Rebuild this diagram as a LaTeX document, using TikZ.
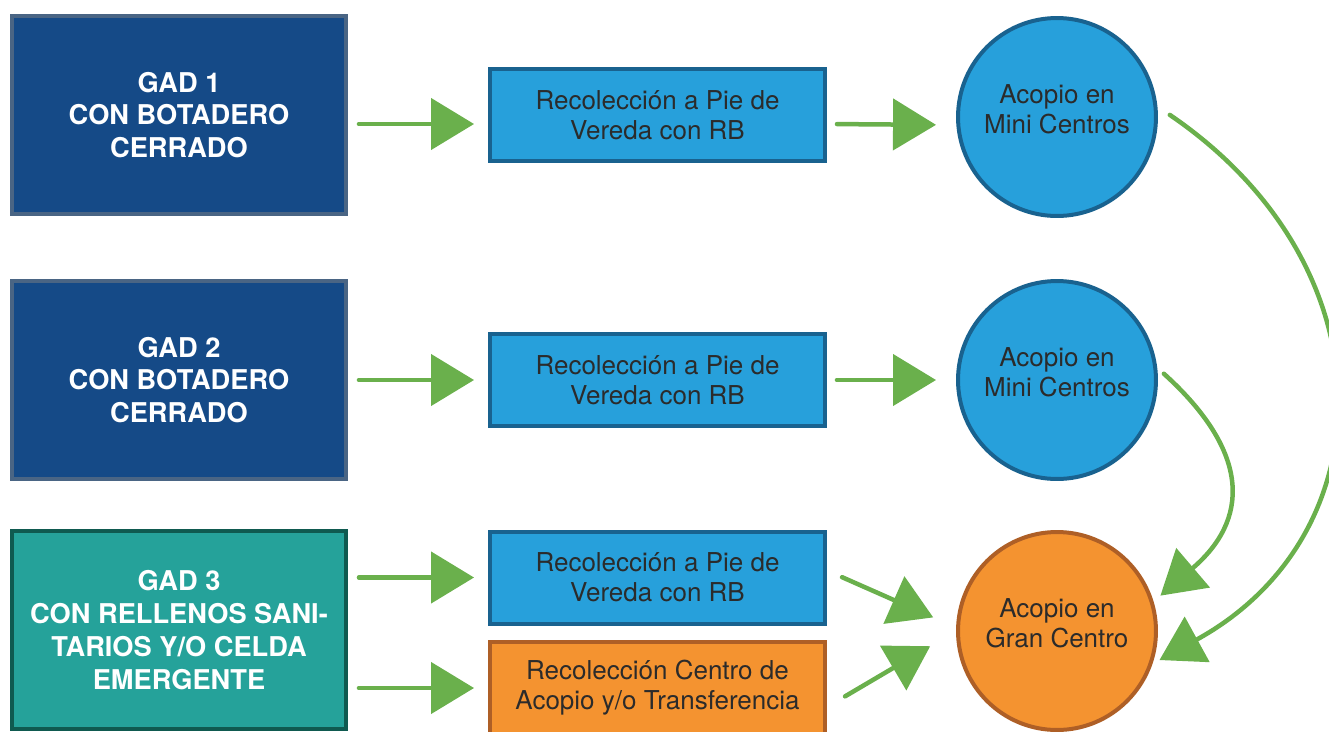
\documentclass[tikz,border=0pt]{standalone}
\usepackage{fontspec}
\setmainfont{TeX Gyre Heros}
\usetikzlibrary{arrows.meta}

\definecolor{gadblue}{HTML}{154A87}
\definecolor{gadblueline}{HTML}{4A6584}
\definecolor{gadteal}{HTML}{25A29A}
\definecolor{gadtealline}{HTML}{0F5A50}
\definecolor{recblue}{HTML}{27A0DB}
\definecolor{recblueline}{HTML}{19628F}
\definecolor{recorange}{HTML}{F49330}
\definecolor{recorangeline}{HTML}{AE5F26}
\definecolor{flowgreen}{HTML}{6AB04C}
\definecolor{textgray}{HTML}{2B2B2B}

\begin{document}
\begin{tikzpicture}[x=0.02cm,y=-0.02cm,
    gad/.style={draw=gadblueline, fill=gadblue, line width=0.08cm,
        minimum width=6.68cm, minimum height=3.96cm, align=center,
        text=white, font=\fontsize{15.5}{18.7}\selectfont\bfseries},
    rec/.style={draw=recblueline, fill=recblue, line width=0.08cm,
        minimum width=6.7cm, minimum height=1.84cm, align=center,
        text=textgray, font=\fontsize{14.8}{17}\selectfont},
    acopio/.style={circle, draw=recblueline, fill=recblue, line width=0.08cm,
        minimum size=3.96cm, inner sep=0pt, align=center, text depth=0.32cm,
        text=textgray, font=\fontsize{14.8}{17}\selectfont},
    flow/.style={draw=flowgreen, line width=0.09cm, line cap=round,
        -{Triangle[length=0.86cm,width=1.02cm]}}]

    \useasboundingbox (0,0) rectangle (1329,731);

    % municipios
    \node[gad] (g1) at (179,115) {GAD 1\\CON BOTADERO\\CERRADO};
    \node[gad] (g2) at (179,380) {GAD 2\\CON BOTADERO\\CERRADO};
    \node[gad, fill=gadteal, draw=gadtealline] (g3) at (179,630)
        {GAD 3\\CON RELLENOS SANI-\\TARIOS Y/O CELDA\\EMERGENTE};

    % recoleccion
    \node[rec] (r1) at (657.5,115) {Recolección a Pie de\\Vereda con RB};
    \node[rec] (r2) at (657.5,380) {Recolección a Pie de\\Vereda con RB};
    \node[rec] (r3) at (657.5,577.5) {Recolección a Pie de\\Vereda con RB};
    \node[rec, fill=recorange, draw=recorangeline] (r4) at (657.5,688)
        {Recolección Centro de\\Acopio y/o Transferencia};

    % acopio
    \node[acopio] (m1) at (1057,117) {Acopio en\\Mini Centros};
    \node[acopio] (m2) at (1057,380) {Acopio en\\Mini Centros};
    \node[acopio, fill=recorange, draw=recorangeline] (gc) at (1057,631)
        {Acopio en\\Gran Centro};

    \draw[flow, shorten <=0.22cm, shorten >=0.28cm] ([yshift=-0.18cm]g1.east) -- ([yshift=-0.18cm]r1.west);
    \draw[flow, shorten <=0.22cm, shorten >=0.28cm] (g2.east) -- (r2.west);
    \draw[flow, shorten <=0.22cm, shorten >=0.28cm] (g3.east |- r3.west) -- (r3.west);
    \draw[flow, shorten <=0.22cm, shorten >=0.28cm] (g3.east |- r4.west) -- (r4.west);

    \draw[flow, shorten <=0.2cm, shorten >=0.4cm] ([yshift=-0.18cm]r1.east) -- ([yshift=-0.16cm]m1.west);
    \draw[flow, shorten <=0.2cm, shorten >=0.4cm] (r2.east) -- (m2.west);
    \draw[flow, shorten <=0.33cm, shorten >=0.5cm] ([yshift=0.14cm]r3.east) -- (gc.178);
    \draw[flow, shorten <=0.42cm, shorten >=0.6cm] ([yshift=-0.38cm]r4.east) -- (gc.west);

    \draw[flow, shorten <=0.18cm, shorten >=0.18cm] (m2.7) .. controls +(95,86) and +(95,-81) .. (gc.17);
    \draw[flow, shorten <=0.3cm, shorten >=0.16cm] (m1.6) .. controls +(235,160) and +(235,-129) .. (gc.-19);

\end{tikzpicture}
\end{document}
